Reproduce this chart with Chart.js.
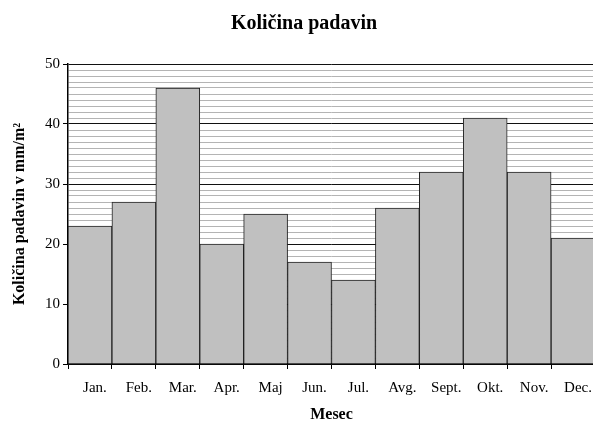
<!DOCTYPE html>
<html>
<head>
<meta charset="utf-8">
<script src="https://cdn.jsdelivr.net/npm/chart.js@4"></script>
<style>
  html, body { margin: 0; padding: 0; background: #fff; overflow: hidden; }
  canvas { display: block; }
</style>
</head>
<body>
<canvas id="rainChart" width="597" height="421"></canvas>
<script>
// data
const months = ["Jan.", "Feb.", "Mar.", "Apr.", "Maj", "Jun.", "Jul.", "Avg.", "Sept.", "Okt.", "Nov.", "Dec."];
const rainfall = [23, 27, 46, 20, 25, 17, 14, 26, 32, 41, 32, 21];
const yLabelValues = [0, 10, 20, 30, 40, 50];
const chartTitle = "Količina padavin";
const yTitle = "Količina padavin v mm/m²";
const xTitle = "Mesec";

const serif = "'Liberation Serif', 'Times New Roman', serif";

// title sits a bit off-centre in the reference, so draw it by hand
const topTitle = {
  id: "topTitle",
  afterDraw(chart) {
    const ctx = chart.ctx;
    ctx.save();
    ctx.font = "bold 20px " + serif;
    ctx.fillStyle = "#000";
    ctx.textAlign = "center";
    ctx.textBaseline = "alphabetic";
    ctx.fillText(chartTitle, 304, 29);
    ctx.restore();
  }
};

const isMajor = (v) => yLabelValues.includes(v);

new Chart(document.getElementById("rainChart"), {
  type: "bar",
  data: {
    labels: months,
    datasets: [
      {
        data: rainfall,
        backgroundColor: "#c0c0c0",
        borderColor: "#222",
        borderWidth: 1,
        barPercentage: 1,
        categoryPercentage: 1,
      },
    ],
  },
  plugins: [topTitle],
  options: {
    responsive: false,
    animation: false,
    devicePixelRatio: 1,
    layout: { padding: { top: 64, right: 0, bottom: 0, left: 0 } },
    plugins: {
      legend: { display: false },
      title: { display: false },
      tooltip: { enabled: false },
    },
    scales: {
      x: {
        afterFit: (scale) => { scale.height = 57; },
        grid: {
          offset: true,
          drawOnChartArea: false,
          tickLength: 5,
          color: "#000",
        },
        border: { color: "#000", width: 1.5 },
        ticks: {
          color: "#000",
          font: { family: serif, size: 15 },
          padding: 10,
          labelOffset: 5,
          maxRotation: 0,
          autoSkip: false,
        },
        title: {
          display: true,
          text: xTitle,
          color: "#000",
          font: { family: serif, size: 16, weight: "bold", lineHeight: 0.8 },
          padding: { top: 0, bottom: 0 },
        },
      },
      y: {
        min: 0,
        max: 50,
        afterFit: (scale) => { scale.width = 68; },
        grid: {
          tickLength: 5,
          lineWidth: 1,
          color: (ctx) => (isMajor(ctx.tick.value) ? "#111" : "#b4b4b4"),
          tickColor: (ctx) => (isMajor(ctx.tick.value) ? "#000" : "rgba(0,0,0,0)"),
        },
        border: { color: "#000", width: 1.5 },
        ticks: {
          stepSize: 1,
          autoSkip: false,
          color: "#000",
          padding: 3,
          font: { family: serif, size: 15 },
          callback: (value) => (isMajor(value) ? value : ""),
        },
        title: {
          display: true,
          text: yTitle,
          color: "#000",
          font: { family: serif, size: 16, weight: "bold" },
          padding: { top: 10, bottom: 0 },
        },
      },
    },
  },
});
</script>
</body>
</html>
